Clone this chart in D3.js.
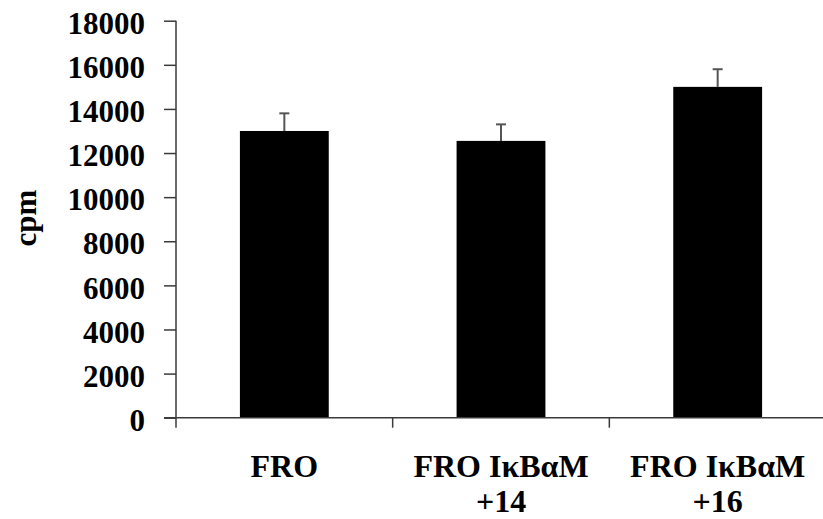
<!DOCTYPE html>
<html>
<head>
<meta charset="utf-8">
<script src="https://cdn.jsdelivr.net/npm/d3@7"></script>
<style>
  body { margin: 0; background: #fff; }
  text { font-family: "Liberation Serif", "Times New Roman", serif; font-weight: bold; }
</style>
</head>
<body>
<svg id="chart"></svg>
<script>
const categories = ["FRO", "FRO IκBαM +14", "FRO IκBαM +16"];
const labelLines = [["FRO"], ["FRO IκBαM", "+14"], ["FRO IκBαM", "+16"]];
const values = [13000, 12550, 15000];
const errors = [800, 750, 800];
const yTicks = [0, 2000, 4000, 6000, 8000, 10000, 12000, 14000, 16000, 18000];

function makeBarChart() {
    let w = 823;
    let h = 519;

    let svg = d3.select('#chart')
        .attr('width', w)
        .attr('height', h);

    let xScale = d3.scaleBand()
        .domain(categories)
        .range([176, 826])
        .paddingInner(0.59)
        .paddingOuter(0.295);

    let yScale = d3.scaleLinear()
        .domain([0, 18000])
        .range([417.7, 20.7]);

    let axisColor = "#3a3a3a";

    // bars
    svg.selectAll('rect.bar')
        .data(values)
        .enter()
        .append('rect')
        .attr('class', 'bar')
        .attr('x', (d, i) => xScale(categories[i]))
        .attr('y', d => yScale(d))
        .attr('width', xScale.bandwidth())
        .attr('height', d => yScale(0) - yScale(d))
        .attr('fill', '#000');

    // error bars (upper only)
    let err = svg.append('g').attr('stroke', '#555').attr('stroke-width', 2);
    values.forEach((v, i) => {
        let cx = xScale(categories[i]) + xScale.bandwidth() / 2;
        err.append('line')
            .attr('x1', cx).attr('x2', cx)
            .attr('y1', yScale(v)).attr('y2', yScale(v + errors[i]));
        err.append('line')
            .attr('x1', cx - 5).attr('x2', cx + 5)
            .attr('y1', yScale(v + errors[i])).attr('y2', yScale(v + errors[i]));
    });

    // y axis
    let yAxis = d3.axisLeft(yScale)
        .tickValues(yTicks)
        .tickFormat(d3.format('d'))
        .tickSize(12)
        .tickPadding(19);
    let yAxisGroup = svg.append('g')
        .attr('transform', 'translate(176, 0)')
        .call(yAxis);
    yAxisGroup.select('.domain').remove();
    yAxisGroup.append('line')
        .attr('x1', 0).attr('x2', 0)
        .attr('y1', yScale(18000)).attr('y2', yScale(0) + 10)
        .attr('stroke', axisColor).attr('stroke-width', 1.5);
    yAxisGroup.selectAll('.tick line').attr('stroke', axisColor).attr('stroke-width', 1.5);
    yAxisGroup.selectAll('.tick text')
        .attr('font-size', 31)
        .attr('fill', '#000')
        .attr('dy', '0.41em');

    // x axis
    let xAxisGroup = svg.append('g');
    xAxisGroup.append('line')
        .attr('x1', 164).attr('x2', w)
        .attr('y1', yScale(0)).attr('y2', yScale(0))
        .attr('stroke', axisColor).attr('stroke-width', 1.5);
    let bounds = categories.map(c => xScale(c) - xScale.step() * xScale.paddingInner() / 2).slice(1);
    xAxisGroup.selectAll('line.xtick')
        .data(bounds)
        .enter()
        .append('line')
        .attr('class', 'xtick')
        .attr('x1', d => d).attr('x2', d => d)
        .attr('y1', yScale(0)).attr('y2', yScale(0) + 10)
        .attr('stroke', axisColor).attr('stroke-width', 1.5);

    let labels = xAxisGroup.selectAll('text.xlabel')
        .data(labelLines)
        .enter()
        .append('text')
        .attr('class', 'xlabel')
        .attr('text-anchor', 'middle')
        .attr('font-size', 32)
        .attr('fill', '#000')
        .attr('transform', (d, i) => `translate(${xScale(categories[i]) + xScale.bandwidth() / 2}, 477)`);
    labels.selectAll('tspan')
        .data(d => d)
        .enter()
        .append('tspan')
        .attr('x', 0)
        .attr('y', (d, i) => i * 35)
        .text(d => d);

    // y label
    svg.append('text')
        .attr('transform', 'translate(36, 218) rotate(-90)')
        .attr('text-anchor', 'middle')
        .attr('font-size', 31)
        .attr('fill', '#000')
        .text('cpm');
}

window.onload = function() {
    makeBarChart();
}
</script>
</body>
</html>
